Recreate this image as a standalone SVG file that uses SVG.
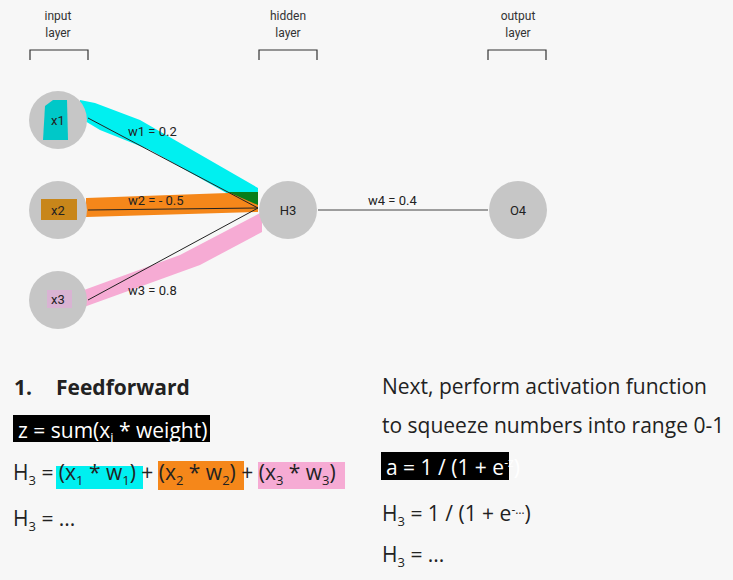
<svg xmlns="http://www.w3.org/2000/svg" width="733" height="580" viewBox="0 0 733 580">
<style>
.n{fill:#c6c6c6}
.nl{font-family:Roboto,"Liberation Sans",sans-serif;font-size:13px;fill:#222;text-anchor:middle}
.hl{font-family:Roboto,"Liberation Sans",sans-serif;font-size:12px;fill:#333;text-anchor:middle}
.el{font-family:Roboto,"Liberation Sans",sans-serif;font-size:13px;fill:#222}
.t{font-family:"Open Sans","Liberation Sans",sans-serif;font-size:21px;fill:#222}
.w{fill:#fff}
.br{fill:none;stroke:#333;stroke-width:1.2}
</style>
<rect width="733" height="580" fill="#f7f7f7"/>
<g id="header-input"><text class="hl" x="58" y="20">input</text><text class="hl" x="58" y="37">layer</text><path class="br" d="M30,60V50H88V60"/></g>
<g id="header-hidden"><text class="hl" x="288" y="20">hidden</text><text class="hl" x="288" y="37">layer</text><path class="br" d="M259,60V50H317V60"/></g>
<g id="header-output"><text class="hl" x="518" y="20">output</text><text class="hl" x="518" y="37">layer</text><path class="br" d="M488,60V50H546V60"/></g>
<g id="highlights">
<path d="M80,100L95,103L140,120L258,188L258,195L230,195L150,150L100,130L80,118Z" fill="#00f0f0"/>
<path d="M86,198L258,192L258,212L86,217Z" fill="#f5871a"/>
<path d="M228,192L258,192L258,205Z" fill="#077d1a"/>
<path d="M84,290L180,255L262,212L262,232L200,265L84,307Z" fill="#f6abd4"/>
</g>
<g id="connectors" stroke="#222" stroke-width="1">
<line x1="88" y1="118" x2="258" y2="208"/>
<line x1="88" y1="210" x2="258" y2="208"/>
<line x1="88" y1="300" x2="258" y2="208"/>
<line x1="318" y1="210" x2="488" y2="210" stroke="#444"/>
</g>
<g id="edge-labels">
<text class="el" x="128" y="136">w1 = 0.2</text>
<text class="el" x="128" y="205">w2 = - 0.5</text>
<text class="el" x="128" y="295">w3 = 0.8</text>
<text class="el" x="368" y="205">w4 = 0.4</text>
</g>
<g id="x1"><circle class="n" cx="58" cy="120" r="29"/><path d="M45,106L53,100L67,100L68,140L43,140Z" fill="#00c8c8"/><text class="nl" x="58" y="125">x1</text></g>
<g id="x2"><circle class="n" cx="58" cy="210" r="29"/><rect x="41" y="199" width="36" height="21" fill="#c8861a"/><text class="nl" x="58" y="215">x2</text></g>
<g id="x3"><circle class="n" cx="58" cy="300" r="29"/><rect x="47" y="290" width="25" height="18" fill="#d9b3d3"/><text class="nl" x="58" y="304">x3</text></g>
<g id="H3"><circle class="n" cx="288" cy="210" r="29"/><text class="nl" x="288" y="215">H3</text></g>
<g id="O4"><circle class="n" cx="518" cy="210" r="29"/><text class="nl" x="518" y="215">O4</text></g>
<g id="left-text">
<text class="t" x="14" y="395" font-weight="bold">1.</text>
<text class="t" x="56" y="395" font-weight="bold" font-size="20">Feedforward</text>
<rect x="13" y="415" width="197" height="27" fill="#000"/>
<text class="t w" x="18" y="438">z = sum(x<tspan font-size="13" dy="4">i</tspan><tspan dy="-4"> * weight)</tspan></text>
<path d="M56,466H143V489H56Z" fill="#00f0f0"/>
<path d="M158,461H244V490H158Z" fill="#f5871a"/>
<path d="M258,462H345V489H258Z" fill="#f6abd4"/>
<text class="t" x="13" y="480">H<tspan font-size="13" dy="5">3</tspan><tspan dy="-5"> = (x</tspan><tspan font-size="13" dy="5">1</tspan><tspan dy="-5"> * w</tspan><tspan font-size="13" dy="5">1</tspan><tspan dy="-5">) + (x</tspan><tspan font-size="13" dy="5">2</tspan><tspan dy="-5"> * w</tspan><tspan font-size="13" dy="5">2</tspan><tspan dy="-5">) + (x</tspan><tspan font-size="13" dy="5">3</tspan><tspan dy="-5"> * w</tspan><tspan font-size="13" dy="5">3</tspan><tspan dy="-5">)</tspan></text>
<text class="t" x="13" y="526">H<tspan font-size="13" dy="5">3</tspan><tspan dy="-5"> = ...</tspan></text>
</g>
<g id="right-text">
<text class="t" x="382" y="394">Next, perform activation function</text>
<text class="t" x="382" y="433">to squeeze numbers into range 0-1</text>
<rect x="381" y="452" width="128" height="28" fill="#000"/>
<text class="t w" x="386" y="475">a = 1 / (1 + e<tspan font-size="12" dy="-8">-z</tspan><tspan dy="8">)</tspan></text>
<text class="t" x="382" y="521">H<tspan font-size="13" dy="5">3</tspan><tspan dy="-5"> = 1 / (1 + e</tspan><tspan font-size="12" dy="-7">-…</tspan><tspan dy="7">)</tspan></text>
<text class="t" x="382" y="562">H<tspan font-size="13" dy="5">3</tspan><tspan dy="-5"> = ...</tspan></text>
</g>
</svg>
